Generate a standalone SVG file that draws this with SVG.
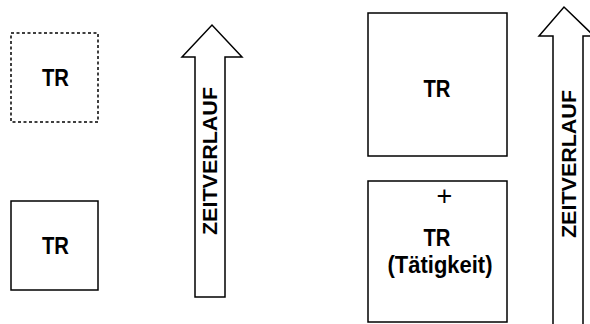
<svg xmlns="http://www.w3.org/2000/svg" width="590" height="324" viewBox="0 0 590 324">
<style>
.box{fill:#fff;stroke:#000;stroke-width:1.5}
.dash{stroke-dasharray:3,2.5}
.arr{fill:#fff;stroke:#000;stroke-width:1.5;stroke-linejoin:miter}
.t{font-family:"Liberation Sans",Arial,sans-serif;font-weight:bold;font-size:24px;text-anchor:middle;fill:#000}
.v{font-size:20.5px}
.p{font-size:27px;font-weight:normal}
.s{font-size:23px}
</style>
<rect width="590" height="324" fill="#fff"/>
<g id="tr-dashed">
<rect class="box dash" x="11" y="33" width="87" height="89"/>
<text class="t" x="55.5" y="86" textLength="27" lengthAdjust="spacingAndGlyphs">TR</text>
</g>
<g id="tr-left">
<rect class="box" x="11" y="201" width="87" height="89"/>
<text class="t" x="55.5" y="254" textLength="27" lengthAdjust="spacingAndGlyphs">TR</text>
</g>
<g id="arrow-left">
<polygon class="arr" points="195,297 195,57 182,57 212,25 242,57 225,57 225,297"/>
<text class="t v" transform="translate(217,161) rotate(-90)" textLength="148" lengthAdjust="spacingAndGlyphs">ZEITVERLAUF</text>
</g>
<g id="tr-right">
<rect class="box" x="368" y="13" width="139" height="143"/>
<text class="t" x="437" y="97" textLength="27" lengthAdjust="spacingAndGlyphs">TR</text>
</g>
<g id="tr-taetigkeit">
<rect class="box" x="368" y="181" width="139" height="141"/>
<text class="t p" x="444.5" y="205">+</text>
<text class="t" x="437" y="246" textLength="27" lengthAdjust="spacingAndGlyphs">TR</text>
<text class="t s" x="440" y="273" textLength="105" lengthAdjust="spacingAndGlyphs">(Tätigkeit)</text>
</g>
<g id="arrow-right">
<polygon class="arr" points="553,326 553,36 539,36 564,7 594,36 583,36 583,326"/>
<text class="t v" transform="translate(576,164) rotate(-90)" textLength="148" lengthAdjust="spacingAndGlyphs">ZEITVERLAUF</text>
</g>
</svg>
